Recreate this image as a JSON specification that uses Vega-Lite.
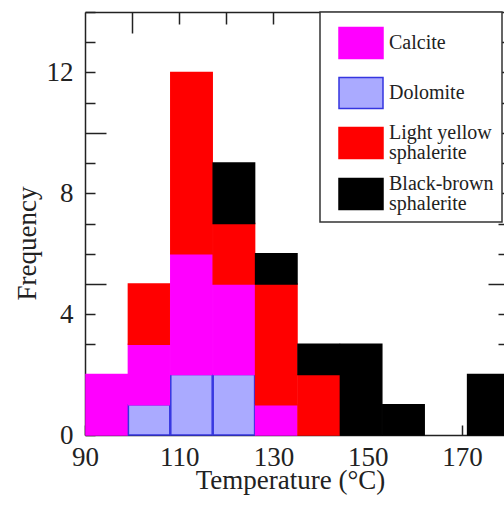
{
  "$schema": "https://vega.github.io/schema/vega-lite/v6.json",
  "autosize": {"type": "none"},
  "padding": {"left": 85, "top": 12, "right": 0, "bottom": 72},
  "width": 419,
  "height": 423,
  "background": "white",
  "config": {
    "view": {"stroke": null},
    "font": "Liberation Serif",
    "axis": {
      "domainColor": "#222",
      "domainWidth": 1.5,
      "tickColor": "#222",
      "tickWidth": 1.5,
      "labelFont": "Liberation Serif",
      "labelFontSize": 27,
      "labelColor": "#222",
      "titleFont": "Liberation Serif",
      "titleFontSize": 27,
      "titleFontWeight": "normal",
      "titleColor": "#222",
      "grid": false,
      "labelOverlap": false,
      "labelFlush": false,
      "zindex": 0
    },
    "legend": {
      "labelFont": "Liberation Serif",
      "labelFontSize": 20,
      "labelColor": "#222"
    }
  },
  "data": {
    "values": [
      {"bin_start": 90, "bin_end": 99, "mineral": "Calcite", "count": 2},
      {"bin_start": 99, "bin_end": 108, "mineral": "Dolomite", "count": 1},
      {"bin_start": 99, "bin_end": 108, "mineral": "Calcite", "count": 2},
      {"bin_start": 99, "bin_end": 108, "mineral": "Light yellow sphalerite", "count": 2},
      {"bin_start": 108, "bin_end": 117, "mineral": "Dolomite", "count": 2},
      {"bin_start": 108, "bin_end": 117, "mineral": "Calcite", "count": 4},
      {"bin_start": 108, "bin_end": 117, "mineral": "Light yellow sphalerite", "count": 6},
      {"bin_start": 117, "bin_end": 126, "mineral": "Dolomite", "count": 2},
      {"bin_start": 117, "bin_end": 126, "mineral": "Calcite", "count": 3},
      {"bin_start": 117, "bin_end": 126, "mineral": "Light yellow sphalerite", "count": 2},
      {"bin_start": 117, "bin_end": 126, "mineral": "Black-brown sphalerite", "count": 2},
      {"bin_start": 126, "bin_end": 135, "mineral": "Calcite", "count": 1},
      {"bin_start": 126, "bin_end": 135, "mineral": "Light yellow sphalerite", "count": 4},
      {"bin_start": 126, "bin_end": 135, "mineral": "Black-brown sphalerite", "count": 1},
      {"bin_start": 135, "bin_end": 144, "mineral": "Light yellow sphalerite", "count": 2},
      {"bin_start": 135, "bin_end": 144, "mineral": "Black-brown sphalerite", "count": 1},
      {"bin_start": 144, "bin_end": 153, "mineral": "Black-brown sphalerite", "count": 3},
      {"bin_start": 153, "bin_end": 162, "mineral": "Black-brown sphalerite", "count": 1},
      {"bin_start": 171, "bin_end": 180, "mineral": "Black-brown sphalerite", "count": 2}
    ]
  },
  "transform": [
    {"calculate": "indexof(['Dolomite', 'Calcite', 'Light yellow sphalerite', 'Black-brown sphalerite'], datum.mineral)", "as": "stack_rank"}
  ],
  "resolve": {"axis": {"x": "independent", "y": "independent"}},
  "layer": [
    {
      "mark": {"type": "bar", "strokeWidth": 1.5},
      "encoding": {
        "x": {
          "field": "bin_start",
          "type": "quantitative",
          "bin": "binned",
          "scale": {"domain": [90, 178.94], "nice": false, "zero": false},
          "axis": {
            "orient": "bottom",
            "values": [90, 100, 110, 120, 130, 140, 150, 160, 170],
            "labelExpr": "datum.value % 20 == 10 ? datum.label : ''",
            "tickSize": -10,
            "labelPadding": 19,
            "title": "Temperature (°C)",
            "titleX": 205,
            "titleY": 53,
            "titleAlign": "center",
            "titleBaseline": "alphabetic"
          }
        },
        "x2": {"field": "bin_end"},
        "y": {
          "field": "count",
          "type": "quantitative",
          "stack": "zero",
          "scale": {"domain": [0, 14], "nice": false},
          "axis": {
            "orient": "left",
            "values": [0, 1, 2, 3, 4, 5, 6, 7, 8, 9, 10, 11, 12, 13, 14],
            "labelExpr": "datum.value % 4 == 0 && datum.value < 14 ? datum.label : ''",
            "tickSize": {"condition": {"test": "datum.value % 5 == 0 && datum.value > 0", "value": -21}, "value": -10},
            "labelPadding": 22,
            "title": "Frequency",
            "titleAngle": -90,
            "titleX": -50,
            "titleY": 231,
            "titleAlign": "center",
            "titleBaseline": "alphabetic"
          }
        },
        "order": {"field": "stack_rank", "type": "quantitative", "sort": "ascending"},
        "fill": {
          "field": "mineral",
          "type": "nominal",
          "scale": {
            "domain": ["Calcite", "Dolomite", "Light yellow sphalerite", "Black-brown sphalerite"],
            "range": ["#ff00ff", "#aaaaff", "#ff0000", "#000000"]
          },
          "legend": {
            "title": null,
            "orient": "none",
            "legendX": 235,
            "legendY": 0,
            "padding": 8,
            "symbolOffset": 10,
            "fillColor": "white",
            "strokeColor": "#333",
            "cornerRadius": 0,
            "symbolType": "M-1,-0.7H1V0.7H-1Z",
            "symbolSize": 1936,
            "symbolStrokeWidth": 1.5,
            "symbolOpacity": 1,
            "rowPadding": 8,
            "labelOffset": 5,
            "labelFont": "Liberation Serif",
            "labelFontSize": 20,
            "labelColor": "#222",
            "labelLimit": 0,
            "labelExpr": "indexof(datum.label, ' sphalerite') > 0 ? [replace(datum.label, ' sphalerite', ''), 'sphalerite'] : datum.label",
            "encode": {
              "legend": {"update": {"strokeWidth": {"value": 1.5}}},
              "labels": {
                "update": {
                  "font": {"value": "Liberation Serif"},
                  "fontSize": {"value": 20},
                  "lineHeight": {"value": 20},
                  "dy": {"signal": "indexof(datum.value, ' sphalerite') > 0 ? -10 : 0"}
                }
              }
            }
          }
        },
        "stroke": {
          "field": "mineral",
          "type": "nominal",
          "scale": {
            "domain": ["Calcite", "Dolomite", "Light yellow sphalerite", "Black-brown sphalerite"],
            "range": ["#ff00ff", "#3535e0", "#ff0000", "#000000"]
          }
        }
      }
    },
    {
      "mark": {"type": "bar", "opacity": 0},
      "encoding": {
        "x": {
          "field": "bin_start",
          "type": "quantitative",
          "bin": "binned",
          "scale": {"domain": [90, 178.94], "nice": false, "zero": false},
          "axis": {
            "orient": "top",
            "values": [100, 110, 120, 130, 140, 150, 160, 170],
            "labels": false,
            "title": null,
            "tickSize": {"condition": {"test": "datum.value % 50 == 0", "value": -21}, "value": -12}
          }
        },
        "x2": {"field": "bin_end"},
        "y": {
          "field": "count",
          "type": "quantitative",
          "stack": "zero",
          "scale": {"domain": [0, 14], "nice": false},
          "axis": {
            "orient": "right",
            "values": [1, 2, 3, 4, 5, 6, 7, 8, 9, 10, 11, 12, 13],
            "labels": false,
            "title": null,
            "domain": false,
            "tickSize": {"condition": {"test": "datum.value % 5 == 0", "value": -16}, "value": -6}
          }
        },
        "order": {"field": "stack_rank", "type": "quantitative", "sort": "ascending"}
      }
    }
  ]
}
